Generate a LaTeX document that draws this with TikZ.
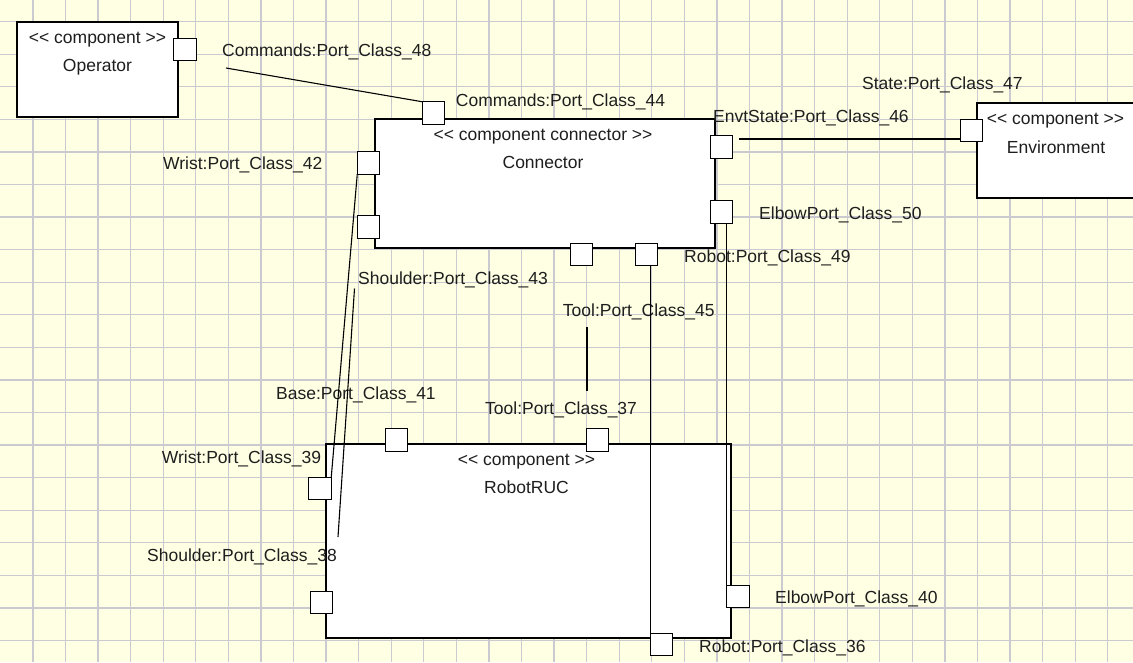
\documentclass[tikz,border=0pt]{standalone}
\usepackage{fontspec}
\setmainfont{Liberation Sans}
\usepackage{tikz}
\definecolor{paperc}{HTML}{FFFFE4}
\definecolor{gridc}{HTML}{CBCAD0}
\definecolor{textc}{HTML}{1E1E1E}
\newcommand\umlfont{\fontsize{17.5pt}{20pt}\selectfont}
\newcommand\stin{{<}{<}}
\newcommand\stout{{>}{>}}
\tikzset{
  comp/.style={draw=black, fill=white, line width=1.3pt, inner sep=0pt, outer sep=0pt, anchor=north west},
  port/.style={draw=black, fill=white, line width=1.2pt, minimum size=22.5pt, inner sep=0pt, outer sep=0pt},
  stereo/.style={font=\umlfont, text=textc, inner sep=0pt, anchor=base},
  lbl/.style={font=\umlfont, text=textc, inner sep=0pt, anchor=base west},
  wire/.style={line width=1.1pt, draw=black},
  gridline/.style={draw=gridc, line width=1.3pt},
}

\begin{document}
\begin{tikzpicture}[x=1pt, y=-1pt]
  \useasboundingbox (0,0) rectangle (1133,662);
  \clip (0,0) rectangle (1133,662);
  \fill[paperc] (0,0) rectangle (1133,662);
  \foreach \k in {1,...,34} \draw[gridline] ({0.4+32.57*\k},0) -- ({0.4+32.57*\k},662);
  \foreach \k in {0,...,19} \draw[gridline] (0,{21.7+32.57*\k}) -- (1133,{21.7+32.57*\k});

  \node[comp, minimum width=161pt, minimum height=95pt] (operator) at (17,22) {};
  \node[comp, minimum width=340pt, minimum height=129pt] (connector) at (375,119) {};
  \node[comp, minimum width=175pt, minimum height=95pt] (environment) at (977,103) {};
  \node[comp, minimum width=405pt, minimum height=194pt] (robot) at (326,444) {};

  \node[stereo] (operatorst) at ([yshift=-21pt]operator.north) {\stin{} component \stout};
  \node[stereo] (operatornm) at ([yshift=-49.5pt]operator.north) {Operator};
  \node[stereo] (connectorst) at ([xshift=-2pt, yshift=-21pt]connector.north) {\stin{} component connector \stout};
  \node[stereo] (connectornm) at ([xshift=-2pt, yshift=-49.5pt]connector.north) {Connector};
  \node[stereo] (environmentst) at (1055.5,124) {\stin{} component \stout};
  \node[stereo] (environmentnm) at (1056,153) {Environment};
  \node[stereo] (robotst) at ([xshift=-2pt, yshift=-21pt]robot.north) {\stin{} component \stout};
  \node[stereo] (robotnm) at ([xshift=-2pt, yshift=-49.5pt]robot.north) {RobotRUC};

  \node[port] (p48) at (185,49.5) {};
  \node[port] (p44) at (433.5,113) {};
  \node[port] (p42) at (368.5,163) {};
  \node[port] (p43) at (368.5,227) {};
  \node[port] (p45) at (581.5,254.5) {};
  \node[port] (p49) at (646.5,254.5) {};
  \node[port] (p46) at (721.5,147) {};
  \node[port] (p50) at (721.5,212) {};
  \node[port] (p47) at (971.5,130.5) {};
  \node[port] (p41) at (396.5,440) {};
  \node[port] (p37) at (597.5,440) {};
  \node[port] (p39) at (320,488.5) {};
  \node[port] (p38) at (321.5,602.5) {};
  \node[port] (p40) at (738,596.5) {};
  \node[port] (p36) at (661.5,644.5) {};

  \node[lbl] (l48) at (222,56) {Commands:Port\_Class\_48};
  \node[lbl] (l44) at (455.7,106) {Commands:Port\_Class\_44};
  \node[lbl] (l42) at (163,169.5) {Wrist:Port\_Class\_42};
  \node[lbl] (l43) at (358,284.5) {Shoulder:Port\_Class\_43};
  \node[lbl] (l45) at (562.7,316.5) {Tool:Port\_Class\_45};
  \node[lbl] (l41) at (276,399) {Base:Port\_Class\_41};
  \node[lbl] (l37) at (485,414.5) {Tool:Port\_Class\_37};
  \node[lbl] (l39) at (161.7,463.5) {Wrist:Port\_Class\_39};
  \node[lbl] (l38) at (147,561.5) {Shoulder:Port\_Class\_38};
  \node[lbl] (l49) at (684,262.5) {Robot:Port\_Class\_49};
  \node[lbl] (l50) at (759,219.5) {ElbowPort\_Class\_50};
  \node[lbl] (l46) at (713,122.5) {EnvtState:Port\_Class\_46};
  \node[lbl] (l47) at (862,89.5) {State:Port\_Class\_47};
  \node[lbl] (l40) at (775,603) {ElbowPort\_Class\_40};
  \node[lbl] (l36) at (699,652.5) {Robot:Port\_Class\_36};

  \coordinate (cmdfrom) at (226,68);
  \coordinate (envtfrom) at (739,139);
  \coordinate (shfrom) at (354.5,288.5);
  \coordinate (shto) at (338,537);
  \coordinate (toolfrom) at (587,327);
  \coordinate (toolto) at (587,391);

  \draw[wire] (cmdfrom) -- (p44.north west);
  \draw[wire] (envtfrom) -- (envtfrom -| p47.west);
  \draw[wire] (p42.south west) -- (p39.north east);
  \draw[wire] (shfrom) -- (shto);
  \draw[wire] (toolfrom) -- (toolto);
  \draw[wire] (p49.south -| p36.west) -- (p36.north west);
  \draw[wire] (p50.south -| p40.west) -- (p40.north west);
\end{tikzpicture}
\end{document}
